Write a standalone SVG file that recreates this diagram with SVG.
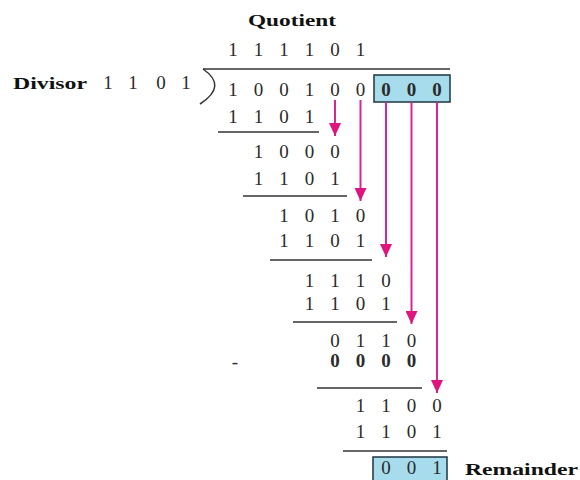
<svg xmlns="http://www.w3.org/2000/svg" width="580" height="480" viewBox="0 0 580 480">
<style>
.d{font-family:"Liberation Serif","Times New Roman",serif;font-size:19px;fill:#2b2b2b;text-anchor:middle}
.b{font-weight:bold}
.lbl{font-family:"Liberation Serif","Times New Roman",serif;font-weight:bold;fill:#111}
.rule{stroke:#333;stroke-width:1.5;fill:none}
.box{fill:#a6dcec;stroke:#1e3440;stroke-width:1.5}
.arr{stroke:#d6279a;stroke-width:2;fill:none}
</style>
<defs>
<marker id="ah" markerUnits="userSpaceOnUse" markerWidth="14" markerHeight="12" refX="13" refY="6" orient="auto" viewBox="0 0 14 12">
<path d="M0,0 L13,6 L0,12 Z" fill="#e0147e"/>
</marker>
</defs>
<rect width="580" height="480" fill="#fff"/>

<g id="quotient">
<text class="lbl" x="248" y="26" font-size="17" textLength="88" lengthAdjust="spacingAndGlyphs">Quotient</text>
<text class="d" y="56" x="233 245.75 258.5 271.25 284 296.75 309.5 322.25 335 347.75 360.5">1 1 1 1 0 1</text>
</g>

<g id="divisor">
<text class="lbl" x="13" y="89" font-size="17" textLength="74" lengthAdjust="spacingAndGlyphs">Divisor</text>
<text class="d" y="89" x="108 120.5 133 147 161 173.5 186">1 1 0 1</text>
</g>

<g id="dividend">
<path class="rule" d="M203,69 Q228,86 200,104"/>
<line class="rule" x1="203" y1="69" x2="450" y2="69"/>
<text class="d" y="96" x="233 245.75 258.5 271.25 284 296.75 309.5 322.25 335 347.75 360.5">1 0 0 1 0 0</text>
<rect class="box" x="374" y="75" width="76" height="27"/>
<text class="d b" y="96" x="386 398.75 411.5 424.25 437">0 0 0</text>
</g>

<g id="step1">
<text class="d" y="123" x="233 245.75 258.5 271.25 284 296.75 309.5">1 1 0 1</text>
<line class="rule" x1="218" y1="132" x2="319" y2="132"/>
</g>

<g id="step2">
<text class="d" y="158" x="258.5 271.25 284 296.75 309.5 322.25 335">1 0 0 0</text>
<text class="d" y="185" x="258.5 271.25 284 296.75 309.5 322.25 335">1 1 0 1</text>
<line class="rule" x1="243" y1="196" x2="347" y2="196"/>
</g>

<g id="step3">
<text class="d" y="222" x="284 296.75 309.5 322.25 335 347.75 360.5">1 0 1 0</text>
<text class="d" y="247" x="284 296.75 309.5 322.25 335 347.75 360.5">1 1 0 1</text>
<line class="rule" x1="270" y1="260" x2="372" y2="260"/>
</g>

<g id="step4">
<text class="d" y="287" x="309.5 322.25 335 347.75 360.5 373.25 386">1 1 1 0</text>
<text class="d" y="310" x="309.5 322.25 335 347.75 360.5 373.25 386">1 1 0 1</text>
<line class="rule" x1="293" y1="322" x2="397" y2="322"/>
</g>

<g id="step5">
<text class="d" y="347" x="335 347.75 360.5 373.25 386 398.75 411.5">0 1 1 0</text>
<text class="d" y="368" x="235" font-size="16">-</text>
<text class="d b" y="367" x="335 347.75 360.5 373.25 386 398.75 411.5">0 0 0 0</text>
<line class="rule" x1="317" y1="388" x2="422" y2="388"/>
</g>

<g id="step6">
<text class="d" y="412" x="360.5 373.25 386 398.75 411.5 424.25 437">1 1 0 0</text>
<text class="d" y="438" x="360.5 373.25 386 398.75 411.5 424.25 437">1 1 0 1</text>
<line class="rule" x1="343" y1="451" x2="447" y2="451"/>
</g>

<g id="remainder">
<rect class="box" x="373" y="457" width="74" height="25"/>
<text class="d" y="474" x="386 398.75 411.5 424.25 437">0 0 1</text>
<text class="lbl" x="465" y="475" font-size="16" textLength="113" lengthAdjust="spacingAndGlyphs">Remainder</text>
</g>

<g id="connectors">
<line class="arr" x1="335" y1="100" x2="335" y2="136" marker-end="url(#ah)"/>
<line class="arr" x1="360.5" y1="100" x2="360.5" y2="201" marker-end="url(#ah)"/>
<line class="arr" x1="386" y1="102" x2="386" y2="257" marker-end="url(#ah)"/>
<line class="arr" x1="411.5" y1="102" x2="411.5" y2="324" marker-end="url(#ah)"/>
<line class="arr" x1="437" y1="102" x2="437" y2="393" marker-end="url(#ah)"/>
</g>
</svg>
